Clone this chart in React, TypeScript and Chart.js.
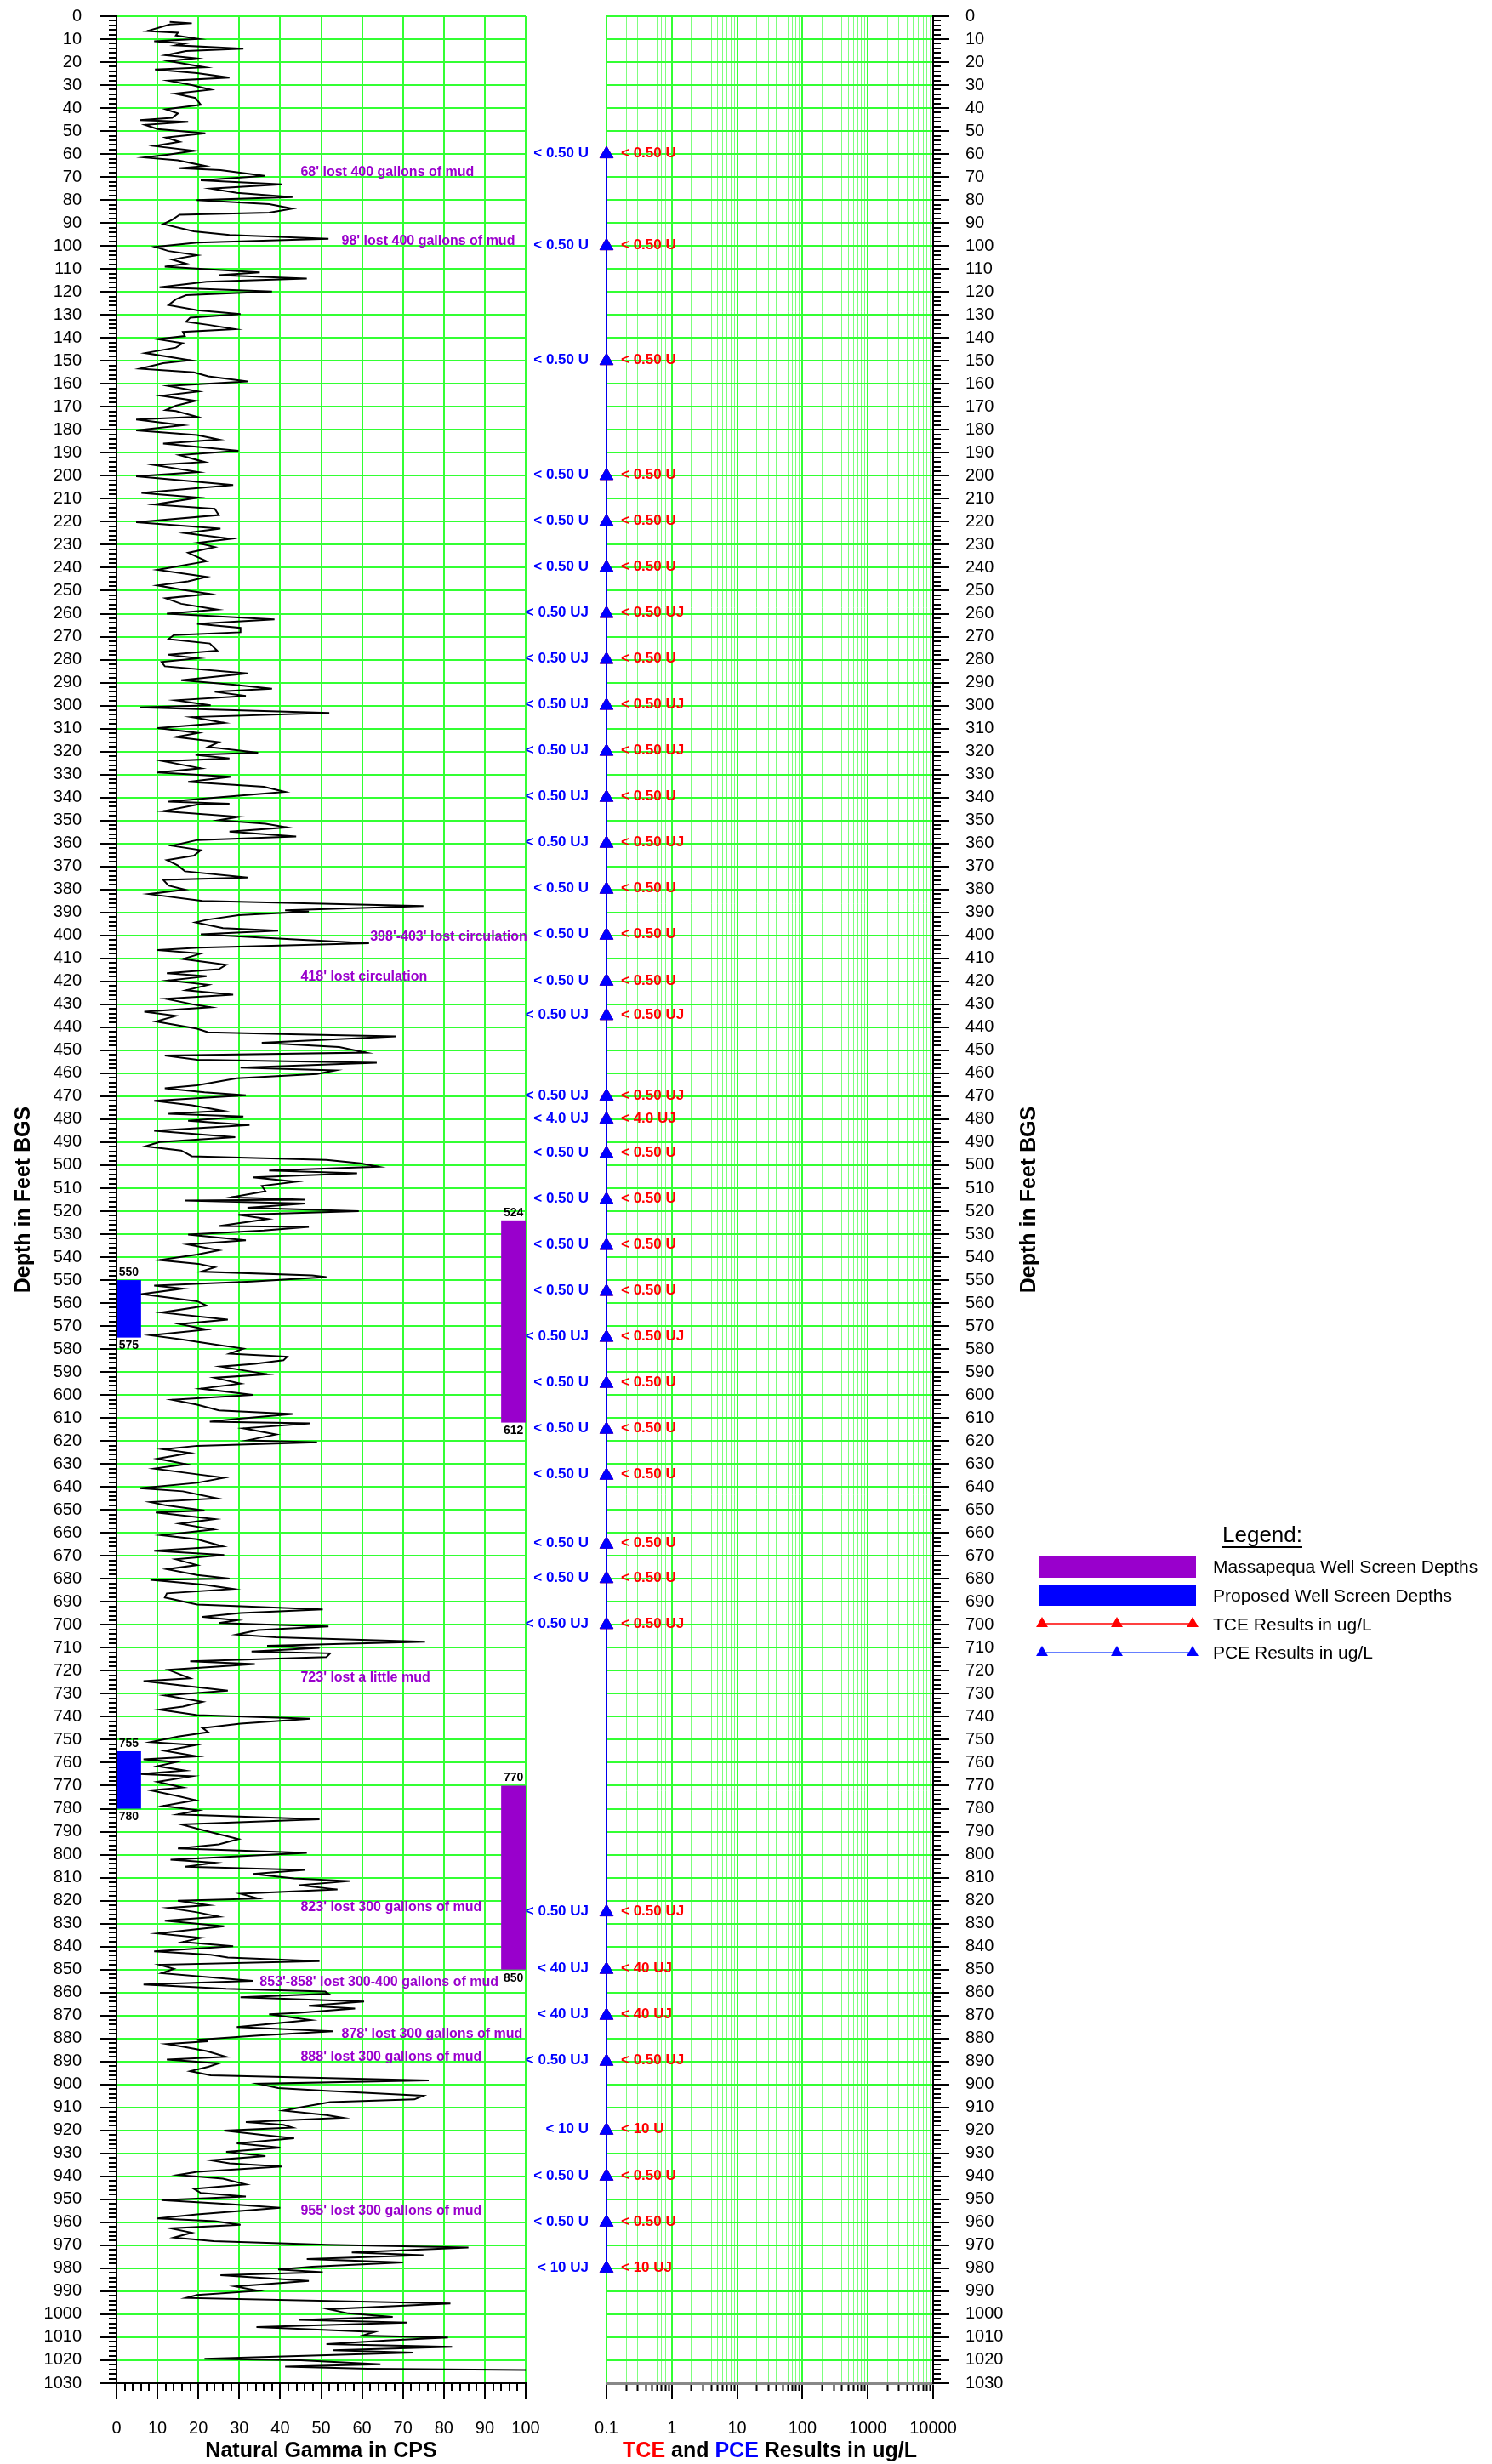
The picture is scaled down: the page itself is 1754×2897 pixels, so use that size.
import React, { useEffect, useRef } from 'react';
import { Chart, registerables } from 'chart.js';

Chart.register(...registerables);

const FONT = '"Liberation Sans", Arial, Helvetica, sans-serif';
Chart.defaults.font.family = FONT;

// ---------------- DATA ----------------
// Natural gamma log, [depth ft, CPS]
const gammaLog0to170 = [
  [2.5,13],[3.1,18.4],[3.6,13],[6.5,7.5],[7.2,15],[8.4,14.5],[9.9,20],[10.9,9.2],[11.9,16.7],[12.7,14.5],
  [14.2,31],[15.2,17],[17,12],[18.3,19.3],[19.5,12.7],[22.3,21.7],[23.2,9.4],[24.8,19.7],[26.7,27.6],[28.1,12.7],
  [30,18.4],[32,23],[33.7,14.3],[35.6,19.3],[38.6,20.6],[40.5,12],[42.3,15],[44.2,13.6],[45.2,5.7],[46,17.5],
  [47.3,7],[49.1,10],[51,21.7],[52.8,12],[54.7,15.4],[56.5,9.2],[58.6,19],[60.2,12.7],[61.5,6.8],[62.7,15],
  [65.2,21.7],[66.2,15.4],[67,25.4],[69.5,36.2],[71.4,20.6],[73.2,40.4],[75,23],[76.9,29.4],[78.7,43],[80,19.6],
  [81.8,37.3],[83.7,43],[85.5,37.3],[86.4,15.4],[88.6,13.6],[90.5,11.4],[93.6,18.9],[95.2,27.6],[96.9,51.8],[98.5,19.7],
  [100.4,9.4],[102.2,12.7],[104,19.7],[105.9,13.6],[107.7,17],[109,11.8],[111.5,35],[112.7,25],[114.2,46.5],[115.6,22],
  [118,10.5],[119.8,38],[121.4,17],[123.2,14.5],[125.7,12.7],[128,19.7],[129.6,30.3],[131.2,18],[133,17],[134.3,22.4],
  [136.2,29],[137.4,16.2],[139.2,16.7],[140.5,10],[142.3,16.2],[144.2,14.5],[146.6,7],[149.7,18],[151,11.4],[153.4,5.7],
  [155,18.9],[156.7,22.4],[159,32],[160.9,12.7],[163.3,20],[165.2,11],[167.4,19.3],[169.5,14.5],[171.4,12],
];
const gammaLog170to345 = [
  [171.8,14.5],[174.3,19.7],[175.5,4.8],[178,16.2],[180.2,4.8],[182.3,19.7],[184.2,25],[186,11.4],[189.1,29.8],[191,15.4],
  [194,21.5],[195.3,9.2],[198.4,20],[200.2,4.8],[204,28.5],[207.4,6.1],[209.5,20],[212.5,9.2],[214.4,24],[217.1,25],
  [220.2,4.8],[221.2,12.3],[223,25.4],[224.9,16.7],[227.4,28],[229.2,19.7],[231,24],[233.5,17.5],[237.2,22],[240.9,10],
  [244,22],[245.9,17.5],[247.7,10],[249.6,16.2],[251.4,22.8],[253.3,12],[255.7,15.8],[258.2,24.6],[260,12.3],[262.5,38.6],
  [264.4,19.7],[266.2,30.3],[268.1,30.3],[269.3,14],[271.1,12.7],[273,22.8],[276.1,24.6],[277.9,12.7],[279.4,20],[281,11],
  [282.9,11.8],[286,32],[289,15.8],[290.9,28.5],[292.7,38],[294,24],[295.8,31.6],[297.7,14.5],[299.9,23],[300.8,5.7],
  [303.2,52],[305,18.4],[307.5,26.3],[309.8,10],[311.9,20],[313.7,14.5],[315.9,25],[318,22.4],[320.5,34.6],[321.4,19.3],
  [323,27.6],[324.2,11.4],[327.3,20.6],[329.1,10],[331,28],[333.2,17.5],[335.3,36],[337.5,41.2],[340.2,23],[341.8,12.7],
  [342.7,27.6],
];
const gammaLog345to515 = [
  [343.1,19.7],[346,11.4],[348.4,29.8],[349.9,25],[351.4,36.4],[353,41.7],[354.8,27.6],[357,43.9],[358.5,19.7],[361,13.6],
  [362.9,20.6],[365.3,18.9],[367.2,12.3],[369.6,15],[372.1,16.7],[374.8,32],[375.8,11.4],[378.3,12.7],[380.1,16.7],[382,7.9],
  [385,21],[387.2,75],[389.1,41.2],[389.6,47],[391.2,29.8],[393.1,22.4],[394.3,19.3],[396.8,26],[398,39.5],[399.5,20.6],
  [401.7,42.5],[403.4,61.7],[405.4,20],[406.4,10],[407.9,20.6],[410.3,16.2],[412.8,26.8],[414.7,25],[416.5,12.3],[417.8,22],
  [419.6,12.7],[421.5,22.4],[423.9,17],[425.8,28.5],[427.6,12],[430.1,18.9],[431.3,23],[433.2,6.8],[435,14.5],[437.5,9.6],
  [440.6,19.7],[442.2,22.4],[443,42.5],[443.9,68.4],[446.7,35.5],[448.6,54.4],[451,61],[452.3,11.8],[454.1,19.7],[455.4,63.6],
  [457.5,30.3],[458.7,53.5],[460.3,49],[462.2,29.4],[465.2,19.7],[466.5,11.8],[468.3,21.5],[469.6,31.6],[472,9.2],[473.9,18.4],
  [476.3,26],[477.6,12.7],[478.8,31],[480.7,17.5],[482.5,32.5],[485,9.2],[487.8,29],[489.9,10.5],[491.8,7],[493.6,15.8],
  [496.1,18.4],[497.7,51.3],[499.2,59.6],[500.7,64],[502.3,37.3],[503.5,58.8],[505.3,33.3],[507.2,43.9],[509,35.5],[511.3,36.4],
  [514,28],[515,46],
];
const gammaLog515to687 = [
  [515.4,16.7],[516.7,46],[518.5,32],[520,59.2],[521.6,29.8],[523.4,37],[526.5,25],[526.8,47],[528.4,36],[530.2,17.5],
  [532.7,31.6],[534.5,17.5],[537,25],[538.9,19.7],[541.3,10.5],[542.9,20],[544.4,24],[546.3,20.6],[547.9,47.8],[548.7,51.3],
  [550.6,33],[552.4,9.2],[553.7,16.2],[556.1,6.1],[559.2,19.7],[561.1,22],[564.1,11],[567.2,27.2],[569.1,15.4],[571.5,22],
  [574,8.3],[575.9,16.2],[578,24],[579.8,31],[582,27.6],[583.3,41.7],[584.9,40.8],[586.4,33.8],[587.6,25.4],[591,36.8],
  [592.5,24],[595,30.3],[597.2,20.6],[599.9,33.3],[602.1,13.6],[604.2,19.7],[606.7,25],[608.3,43],[610.4,29.4],[611.6,22.8],
  [612.3,47.4],[614.5,31],[617.2,39],[619.7,32],[620.6,49],[622.1,19.7],[623.6,11.4],[625.2,18],[627.7,10],[630.1,17],
  [632,9.2],[634.5,19.7],[636,26.3],[638.2,19.7],[640.6,5.7],[641.9,16.2],[645,24.6],[646.6,8.3],[648,12],[650.3,21.5],
  [651.1,9.6],[654,24],[656,15.4],[658.5,23.7],[661,11],[662.8,19.7],[665.9,26],[667.8,9.2],[669.6,26.3],[671.5,14.5],
  [674,19.7],[675.8,12.3],[678.3,19.7],[679.9,27.6],[680.4,8.3],[682.6,21.5],[684.4,28.5],[686.3,12.3],
];
const gammaLog687to860 = [
  [688.1,11.8],[691.2,19.7],[693.3,50.4],[694.9,30.3],[696.5,21],[698,29.4],[699.2,25],[700.7,51.8],[702.3,34.6],[704.2,29.4],
  [705.4,39],[707.4,75.4],[709.1,36.8],[710,49.6],[711.6,33],[712.4,52.2],[714,51.3],[715.9,18],[717.1,33.8],[719.6,12.7],
  [723.3,18],[724.5,6.6],[726.4,16.2],[728.6,27.2],[730.7,11.8],[733.5,21],[735.6,16.2],[736.9,10.5],[739.3,19.7],[740.9,47.4],
  [743,30.3],[744.9,21],[746.7,22.4],[748.6,15],[751,8.3],[752.3,19.3],[754.8,11.8],[757.2,19.7],[758.5,6.6],[759.7,14.5],
  [761.5,10],[763.4,16.7],[764.9,5.7],[765.9,18.4],[768.3,10],[770.8,16.2],[772,8.3],[774.5,15],[776.3,19.3],[778.8,11.4],
  [780.7,20],[782.5,15],[784.6,49.6],[786.8,15.8],[788.7,19.7],[791.1,25],[793.2,29.8],[795.5,25],[797.3,15],[799.2,46.5],
  [802.2,13.2],[803.5,24],[805.3,16.7],[806.6,46],[808.4,33.3],[810.3,43.4],[811.5,57],[813.3,44.7],[815.2,54],[817,30.3],
  [819.1,34.6],[820.1,15],[822,22.4],[823.2,12.7],[825.1,19.7],[827,25],[828.8,11.8],[831.2,26.3],[834.3,10],[836.2,20.6],
  [838,16.2],[839.9,28.5],[842.1,9.2],[843.6,23],[844.8,27.2],[846.3,49.6],[847.9,10.5],[849.7,14],[851.6,11],[854.9,33.3],
  [856.5,6.6],[858.4,26.8],[859.6,51],
];
const gammaLog860to1025 = [
  [860.5,51.8],[862.1,30.3],[863.9,60.5],[865.8,47],[867,58.3],[868.9,43.9],[869.5,37.3],[872,47.4],[875,29.4],[876.9,53],
  [878.7,34.6],[880.6,19.7],[881.2,22.4],[882.4,12.3],[883.7,16.7],[885.5,22],[888,26.8],[889.2,12.3],[890.8,25],[892.3,22.4],
  [894.2,18],[896,23],[898.2,76.3],[899.7,34.6],[901.6,39.5],[902.8,51.3],[904.9,75],[906.5,72.8],[907.7,52.2],[909.6,46],
  [911.4,40.8],[913.3,51.3],[914.5,55.3],[916.4,31.6],[917.6,40.8],[918.8,43],[920.1,26.3],[921.9,35.5],[923.4,43.4],[925.6,29.4],
  [927.5,40],[929.3,26.8],[931.2,36.4],[933,23],[934.3,27.6],[935.7,40.4],[938,19.7],[939.4,15],[941,26],[943.5,31.6],
  [945.4,18.9],[947.2,20.6],[948.8,31.6],[950.3,11],[952.1,27.6],[953.7,40],[956.5,19.7],[958.3,10],[959.5,24],[961.1,30.3],
  [962.6,13.2],[964.5,18.4],[966.6,14],[968.2,23.7],[969.8,51.3],[971,86],[973.1,57.5],[974.3,75],[976,46.5],[977.4,70],
  [979.3,47.8],[980.5,39.5],[981.7,50.4],[983,25.4],[985.5,47],[987.9,29],[989.8,34.6],[991.6,19.7],[992.9,17],[995.3,81.6],
  [997.8,51.8],[999.6,56.6],[1001.1,67.5],[1002.4,44.7],[1003.6,71],[1005.6,34.2],[1007.7,63],[1009.3,60],[1010.1,81],[1011.4,66],
  [1013,51.3],[1014.2,82],[1015.7,53],[1016.7,72.4],[1019.4,21.5],[1020,45],[1021.8,64.5],[1022.8,41.2],[1023.7,61.4],[1024.3,100],
];

// Water-quality samples (TCE / PCE, ug/L), plotted at the 0.1 axis
const sampleDepth = [60,100,150,200,220,240,260,280,300,320,340,360,380,400,420,435,470,480,495,515,535,555,575,595,615,635,665,680,700,825,850,870,890,920,940,960,980];
const pceResult = [0.1,0.1,0.1,0.1,0.1,0.1,0.1,0.1,0.1,0.1,0.1,0.1,0.1,0.1,0.1,0.1,0.1,0.1,0.1,0.1,0.1,0.1,0.1,0.1,0.1,0.1,0.1,0.1,0.1,0.1,0.1,0.1,0.1,0.1,0.1,0.1,0.1];
const tceResult = [0.1,0.1,0.1,0.1,0.1,0.1,0.1,0.1,0.1,0.1,0.1,0.1,0.1,0.1,0.1,0.1,0.1,0.1,0.1,0.1,0.1,0.1,0.1,0.1,0.1,0.1,0.1,0.1,0.1,0.1,0.1,0.1,0.1,0.1,0.1,0.1,0.1];
const pceLabel = [
  '< 0.50 U','< 0.50 U','< 0.50 U','< 0.50 U','< 0.50 U','< 0.50 U','< 0.50 UJ','< 0.50 UJ','< 0.50 UJ','< 0.50 UJ',
  '< 0.50 UJ','< 0.50 UJ','< 0.50 U','< 0.50 U','< 0.50 U','< 0.50 UJ','< 0.50 UJ','< 4.0 UJ','< 0.50 U','< 0.50 U',
  '< 0.50 U','< 0.50 U','< 0.50 UJ','< 0.50 U','< 0.50 U','< 0.50 U','< 0.50 U','< 0.50 U','< 0.50 UJ','< 0.50 UJ',
  '< 40 UJ','< 40 UJ','< 0.50 UJ','< 10 U','< 0.50 U','< 0.50 U','< 10 UJ',
];
const tceLabel = [
  '< 0.50 U','< 0.50 U','< 0.50 U','< 0.50 U','< 0.50 U','< 0.50 U','< 0.50 UJ','< 0.50 U','< 0.50 UJ','< 0.50 UJ',
  '< 0.50 U','< 0.50 UJ','< 0.50 U','< 0.50 U','< 0.50 U','< 0.50 UJ','< 0.50 UJ','< 4.0 UJ','< 0.50 U','< 0.50 U',
  '< 0.50 U','< 0.50 U','< 0.50 UJ','< 0.50 U','< 0.50 U','< 0.50 U','< 0.50 U','< 0.50 U','< 0.50 UJ','< 0.50 UJ',
  '< 40 UJ','< 40 UJ','< 0.50 UJ','< 10 U','< 0.50 U','< 0.50 U','< 10 UJ',
];

// Well screens (ft)
const massapequaTop = [524, 770];
const massapequaBottom = [612, 850];
const proposedTop = [550, 755];
const proposedBottom = [575, 780];

// Drilling notes: depth (ft), CPS at which the note starts
const noteDepth = [68, 98, 400.5, 418, 723, 823, 855.5, 878, 888, 955];
const noteCps = [45, 55, 62, 45, 45, 45, 35, 55, 45, 45];
const noteText = [
  "68' lost 400 gallons of mud",
  "98' lost 400 gallons of mud",
  "398'-403' lost circulation",
  "418' lost circulation",
  "723' lost a little mud",
  "823' lost 300 gallons of mud",
  "853'-858' lost 300-400 gallons of mud",
  "878' lost 300 gallons of mud",
  "888' lost 300 gallons of mud",
  "955' lost 300 gallons of mud",
];

// Axis ticks
const logDecades = [0.1, 1, 10, 100, 1000, 10000];
const logMultipliers = [1, 2, 3, 4, 5, 6, 7, 8, 9];
const logDecadeLabels = ['0.1', '1', '10', '100', '1000', '10000'];

// ---------------- STYLE ----------------
const GREEN = '#33ff33';
const GREEN_LIGHT = '#7dff7d';
const PURPLE = '#9900cc';
const TRANSPARENT = 'rgba(0,0,0,0)';
const TOTAL_H = 2897;
const OFF2 = 600; // left of second canvas in page coords
const W2 = 1754 - OFF2;

function isDecade(v: number) {
  const l = Math.log10(v);
  return Math.abs(l - Math.round(l)) < 1e-6;
}

function triangle(ctx: any, cx: number, cy: number, r: number) {
  const s = Math.sin((2 * Math.PI) / 3) * r;
  ctx.beginPath();
  ctx.moveTo(cx, cy - r);
  ctx.lineTo(cx + s, cy + r / 2);
  ctx.lineTo(cx - s, cy + r / 2);
  ctx.closePath();
  ctx.fill();
}

const gammaPlugin = {
  id: 'gammaExtras',
  afterDatasetsDraw(chart: any) {
    const { ctx } = chart;
    const x = chart.scales.x;
    const y = chart.scales.y;
    ctx.save();
    for (let i = 0; i < massapequaTop.length; i++) {
      const x0 = x.getPixelForValue(94);
      const x1 = x.getPixelForValue(100);
      const y0 = y.getPixelForValue(massapequaTop[i]);
      const y1 = y.getPixelForValue(massapequaBottom[i]);
      ctx.fillStyle = PURPLE;
      ctx.fillRect(x0, y0, x1 - x0, y1 - y0);
      ctx.fillStyle = '#000';
      ctx.font = `bold 14px ${FONT}`;
      ctx.textAlign = 'center';
      ctx.textBaseline = 'bottom';
      ctx.fillText(String(massapequaTop[i]), (x0 + x1) / 2, y0 - 2);
      ctx.textBaseline = 'top';
      ctx.fillText(String(massapequaBottom[i]), (x0 + x1) / 2, y1 + 3);
    }
    for (let i = 0; i < proposedTop.length; i++) {
      const x0 = x.getPixelForValue(0);
      const x1 = x.getPixelForValue(6);
      const y0 = y.getPixelForValue(proposedTop[i]);
      const y1 = y.getPixelForValue(proposedBottom[i]);
      ctx.fillStyle = '#0000ff';
      ctx.fillRect(x0, y0, x1 - x0, y1 - y0);
      ctx.fillStyle = '#000';
      ctx.font = `bold 14px ${FONT}`;
      ctx.textAlign = 'center';
      ctx.textBaseline = 'bottom';
      ctx.fillText(String(proposedTop[i]), (x0 + x1) / 2, y0 - 2);
      ctx.textBaseline = 'top';
      ctx.fillText(String(proposedBottom[i]), (x0 + x1) / 2, y1 + 3);
    }
    ctx.fillStyle = PURPLE;
    ctx.font = `bold 16px ${FONT}`;
    ctx.textAlign = 'left';
    ctx.textBaseline = 'middle';
    for (let i = 0; i < noteText.length; i++) {
      ctx.fillText(noteText[i], x.getPixelForValue(noteCps[i]), y.getPixelForValue(noteDepth[i]));
    }
    ctx.restore();
  },
  afterDraw(chart: any) {
    const { ctx, chartArea } = chart;
    const x = chart.scales.x;
    const y = chart.scales.y;
    ctx.save();
    ctx.strokeStyle = '#000';
    ctx.lineWidth = 2;
    ctx.beginPath();
    for (let d = 0; d <= 1030; d += 10) {
      const py = Math.round(y.getPixelForValue(d));
      ctx.moveTo(chartArea.left - 19, py);
      ctx.lineTo(chartArea.left - 8, py);
    }
    for (let v = 0; v <= 100; v += 10) {
      const px = Math.round(x.getPixelForValue(v));
      ctx.moveTo(px, chartArea.bottom + 8);
      ctx.lineTo(px, chartArea.bottom + 19);
    }
    ctx.stroke();
    ctx.restore();
  },
};

const resultPlugin = {
  id: 'resultExtras',
  afterDraw(chart: any) {
    const { ctx, chartArea } = chart;
    const x = chart.scales.x;
    const y = chart.scales.y;
    ctx.save();
    ctx.strokeStyle = '#000';
    ctx.lineWidth = 2;
    ctx.beginPath();
    for (let d = 0; d <= 1030; d += 10) {
      const py = Math.round(y.getPixelForValue(d));
      ctx.moveTo(chartArea.right + 8, py);
      ctx.lineTo(chartArea.right + 19, py);
    }
    for (const dec of logDecades) {
      const px = Math.round(x.getPixelForValue(dec));
      ctx.moveTo(px, chartArea.bottom + 8);
      ctx.lineTo(px, chartArea.bottom + 19);
    }
    ctx.stroke();

    ctx.font = `bold 17px ${FONT}`;
    ctx.textBaseline = 'middle';
    for (let i = 0; i < sampleDepth.length; i++) {
      const py = y.getPixelForValue(sampleDepth[i]) - 1;
      const pxP = x.getPixelForValue(pceResult[i]);
      const pxT = x.getPixelForValue(tceResult[i]);
      ctx.fillStyle = '#0000ff';
      ctx.textAlign = 'right';
      ctx.fillText(pceLabel[i], pxP - 21, py);
      ctx.fillStyle = '#ff0000';
      ctx.textAlign = 'left';
      ctx.fillText(tceLabel[i], pxT + 17, py);
    }

    const parts: [string, string][] = [['TCE', '#ff0000'], [' and ', '#000'], ['PCE', '#0000ff'], [' Results in ug/L', '#000']];
    ctx.font = `bold 25px ${FONT}`;
    ctx.textAlign = 'left';
    ctx.textBaseline = 'middle';
    const total = parts.reduce((s, p) => s + ctx.measureText(p[0]).width, 0);
    let tx = (chartArea.left + chartArea.right) / 2 - total / 2;
    for (const [t, c] of parts) {
      ctx.fillStyle = c;
      ctx.fillText(t, tx, 2882);
      tx += ctx.measureText(t).width;
    }

    ctx.save();
    ctx.translate(1210 - OFF2, (chartArea.top + chartArea.bottom) / 2);
    ctx.rotate(-Math.PI / 2);
    ctx.fillStyle = '#000';
    ctx.textAlign = 'center';
    ctx.fillText('Depth in Feet BGS', 0, 0);
    ctx.restore();

    const L = (gx: number) => gx - OFF2;
    ctx.fillStyle = '#000';
    ctx.font = `26px ${FONT}`;
    ctx.textAlign = 'center';
    ctx.textBaseline = 'middle';
    ctx.fillText('Legend:', L(1484), 1806);
    const lw = ctx.measureText('Legend:').width;
    ctx.fillRect(L(1484) - lw / 2, 1818, lw, 2);

    ctx.fillStyle = PURPLE;
    ctx.fillRect(L(1221), 1830, 185, 25);
    ctx.fillStyle = '#0000ff';
    ctx.fillRect(L(1221), 1864, 185, 24);

    ctx.strokeStyle = '#ff0000';
    ctx.lineWidth = 1.5;
    ctx.beginPath();
    ctx.moveTo(L(1225), 1909);
    ctx.lineTo(L(1402), 1909);
    ctx.stroke();
    ctx.fillStyle = '#ff0000';
    [1225, 1313, 1402].forEach((gx) => triangle(ctx, L(gx), 1909, 8));

    ctx.strokeStyle = '#3355ff';
    ctx.beginPath();
    ctx.moveTo(L(1225), 1943);
    ctx.lineTo(L(1402), 1943);
    ctx.stroke();
    ctx.fillStyle = '#0000ff';
    [1225, 1313, 1402].forEach((gx) => triangle(ctx, L(gx), 1943, 8));

    ctx.fillStyle = '#000';
    ctx.font = `21px ${FONT}`;
    ctx.textAlign = 'left';
    ctx.fillText('Massapequa Well Screen Depths', L(1426), 1843);
    ctx.fillText('Proposed Well Screen Depths', L(1426), 1877);
    ctx.fillText('TCE Results in ug/L', L(1426), 1911);
    ctx.fillText('PCE Results in ug/L', L(1426), 1944);
    ctx.restore();
  },
};

const depthGridColor = (c: any) => {
  const v = c.tick ? c.tick.value : 0;
  return v % 10 === 0 && v !== 1030 ? GREEN : TRANSPARENT;
};

const zeroPad = (s: any) => {
  s.paddingTop = 0;
  s.paddingBottom = 0;
  s.paddingLeft = 0;
  s.paddingRight = 0;
};

export default function App() {
  const ref1 = useRef<HTMLCanvasElement | null>(null);
  const ref2 = useRef<HTMLCanvasElement | null>(null);

  useEffect(() => {
    const gammaPoints = [
      ...gammaLog0to170, ...gammaLog170to345, ...gammaLog345to515,
      ...gammaLog515to687, ...gammaLog687to860, ...gammaLog860to1025,
    ].map((p) => ({ x: p[1], y: p[0] }));

    const c1 = new Chart(ref1.current as HTMLCanvasElement, {
      type: 'scatter',
      data: {
        datasets: [
          {
            label: 'Natural Gamma',
            data: gammaPoints,
            showLine: true,
            borderColor: '#000',
            borderWidth: 2,
            pointRadius: 0,
            pointHoverRadius: 0,
            tension: 0,
          } as any,
        ],
      },
      options: {
        animation: false,
        responsive: false,
        maintainAspectRatio: false,
        events: [],
        layout: { autoPadding: false, padding: { left: 0, top: 19, right: 82, bottom: 0 } },
        plugins: { legend: { display: false }, tooltip: { enabled: false } },
        scales: {
          x: {
            type: 'linear',
            position: 'bottom',
            min: 0,
            max: 100,
            ticks: {
              stepSize: 2,
              autoSkip: false,
              maxRotation: 0,
              padding: 32,
              color: '#000',
              font: { size: 20, family: FONT },
              callback: (v: any) => (Number(v) % 10 === 0 ? String(v) : ''),
            },
            grid: {
              color: (c: any) => (c.tick && c.tick.value % 10 === 0 ? GREEN : TRANSPARENT),
              lineWidth: 2,
              tickLength: 9,
              tickColor: '#000',
              tickWidth: 2,
            },
            border: { display: true, color: '#000', width: 2, z: 1 },
            title: {
              display: true,
              text: 'Natural Gamma in CPS',
              color: '#000',
              font: { size: 25, weight: 'bold', family: FONT },
              padding: { top: 0, bottom: 0 },
            },
            afterFit: (s: any) => { s.height = TOTAL_H - 2802; zeroPad(s); },
          },
          y: {
            type: 'linear',
            position: 'left',
            reverse: true,
            min: 0,
            max: 1030,
            ticks: {
              stepSize: 2,
              autoSkip: false,
              padding: 32,
              color: '#000',
              font: { size: 20, family: FONT },
              callback: (v: any) => (Number(v) % 10 === 0 ? String(v) : ''),
            },
            grid: {
              color: depthGridColor,
              lineWidth: 2,
              tickLength: 9,
              tickColor: '#000',
              tickWidth: 2,
            },
            border: { display: true, color: '#000', width: 2, z: 1 },
            title: {
              display: true,
              text: 'Depth in Feet BGS',
              color: '#000',
              font: { size: 25, weight: 'bold', family: FONT },
              padding: { top: 13, bottom: 0 },
            },
            afterFit: (s: any) => { s.width = 137; zeroPad(s); },
          },
        },
      } as any,
      plugins: [gammaPlugin],
    });

    const logTicks: number[] = [];
    for (let i = 0; i < logDecades.length; i++) {
      for (const m of logMultipliers) {
        if (i === logDecades.length - 1 && m > 1) break;
        logTicks.push(parseFloat((logDecades[i] * m).toPrecision(6)));
      }
    }

    const c2 = new Chart(ref2.current as HTMLCanvasElement, {
      type: 'scatter',
      data: {
        datasets: [
          {
            label: 'PCE Results in ug/L',
            data: sampleDepth.map((d, i) => ({ x: pceResult[i], y: d })),
            showLine: true,
            borderColor: '#0000ee',
            borderWidth: 2,
            pointStyle: 'triangle',
            pointRadius: 9,
            pointHoverRadius: 9,
            pointBackgroundColor: '#0000ff',
            pointBorderColor: '#0000ff',
            pointBorderWidth: 1,
            clip: false,
          } as any,
          {
            label: 'TCE Results in ug/L',
            data: sampleDepth.map((d, i) => ({ x: tceResult[i], y: d })),
            showLine: true,
            borderColor: '#ff0000',
            borderWidth: 1.5,
            pointStyle: 'triangle',
            pointRadius: 9,
            pointHoverRadius: 9,
            pointBackgroundColor: '#ff0000',
            pointBorderColor: '#ff0000',
            pointBorderWidth: 1,
            clip: false,
          } as any,
        ],
      },
      options: {
        animation: false,
        responsive: false,
        maintainAspectRatio: false,
        events: [],
        layout: { autoPadding: false, padding: { left: 713 - OFF2, top: 19, right: 1754 - 1097 - 100, bottom: 0 } },
        plugins: { legend: { display: false }, tooltip: { enabled: false } },
        scales: {
          x: {
            type: 'logarithmic',
            position: 'bottom',
            min: 0.1,
            max: 10000,
            afterBuildTicks: (s: any) => { s.ticks = logTicks.map((v) => ({ value: v })); },
            ticks: {
              autoSkip: false,
              maxRotation: 0,
              padding: 32,
              color: '#000',
              font: { size: 20, family: FONT },
              callback: (v: any) => {
                const n = Number(v);
                if (!isDecade(n)) return '';
                const idx = logDecades.findIndex((d) => Math.abs(d - n) / d < 1e-6);
                return idx >= 0 ? logDecadeLabels[idx] : '';
              },
            },
            grid: {
              color: (c: any) => (c.tick && isDecade(c.tick.value) ? GREEN : GREEN_LIGHT),
              lineWidth: (c: any) => (c.tick && isDecade(c.tick.value) ? 2 : 1),
              tickLength: 9,
              tickColor: '#000',
              tickWidth: 2,
            },
            border: { display: true, color: '#888888', width: 3, z: 1 },
            title: { display: false },
            afterFit: (s: any) => { s.height = TOTAL_H - 2802; zeroPad(s); },
          },
          y: {
            type: 'linear',
            position: 'right',
            reverse: true,
            min: 0,
            max: 1030,
            ticks: {
              stepSize: 2,
              autoSkip: false,
              padding: 29,
              color: '#000',
              font: { size: 20, family: FONT },
              callback: (v: any) => (Number(v) % 10 === 0 ? String(v) : ''),
            },
            grid: {
              color: depthGridColor,
              lineWidth: 2,
              tickLength: 9,
              tickColor: '#000',
              tickWidth: 2,
            },
            border: { display: true, color: '#000', width: 2, z: 1 },
            title: { display: false },
            afterFit: (s: any) => { s.width = 100; zeroPad(s); },
          },
        },
      } as any,
      plugins: [resultPlugin],
    });

    return () => {
      c1.destroy();
      c2.destroy();
    };
  }, []);

  return (
    <div style={{ position: 'absolute', left: 0, top: 0, width: 1754, height: TOTAL_H, background: '#fff', overflow: 'hidden' }}>
      <canvas
        ref={ref1}
        width={700}
        height={TOTAL_H}
        style={{ position: 'absolute', left: 0, top: 0, width: 700, height: TOTAL_H }}
      />
      <canvas
        ref={ref2}
        width={W2}
        height={TOTAL_H}
        style={{ position: 'absolute', left: OFF2, top: 0, width: W2, height: TOTAL_H }}
      />
    </div>
  );
}
